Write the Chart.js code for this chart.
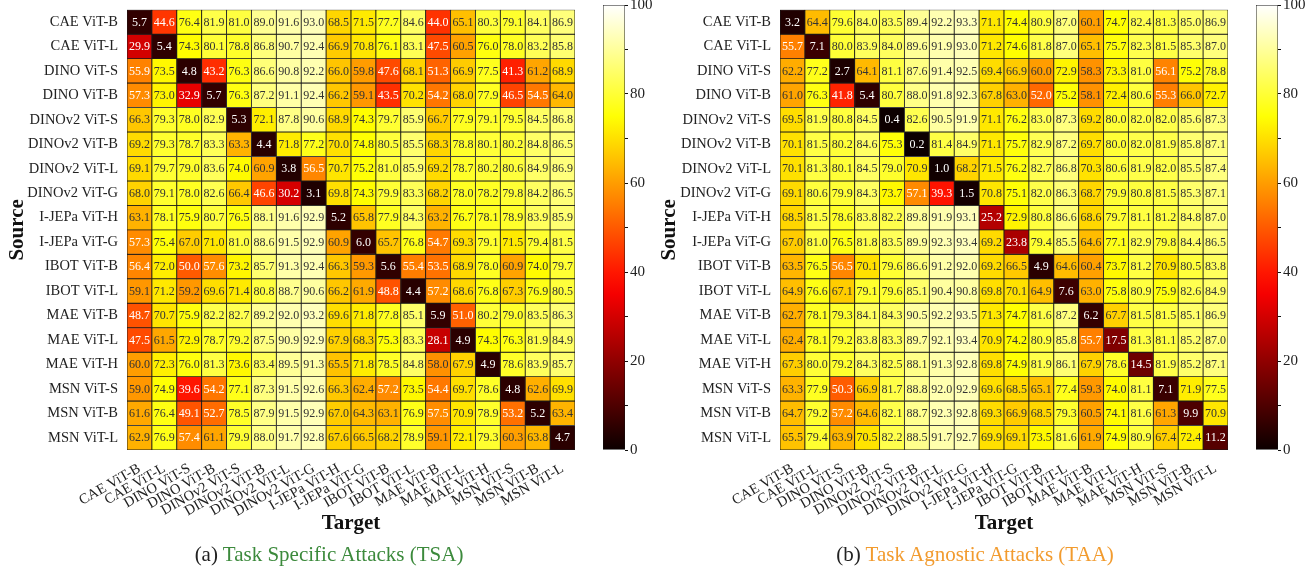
<!DOCTYPE html>
<html>
<head>
<meta charset="utf-8">
<script src="https://cdn.jsdelivr.net/npm/chart.js@4.4.1/dist/chart.umd.min.js"></script>
<style>
body{margin:0;background:#fff;width:1315px;height:573px;overflow:hidden;position:relative;font-family:'Liberation Serif',serif}
.box{position:absolute}
.cap{position:absolute;top:542px;font-size:21px;color:#222;white-space:nowrap;transform:translateX(-50%)}
</style>
</head>
<body>
<div class="box" style="left:0;top:0;width:590px;height:545px"><canvas id="heatTSA"></canvas></div>
<div class="box" style="left:598px;top:-8px;width:62px;height:473px"><canvas id="barTSA"></canvas></div>
<div class="box" style="left:653px;top:0;width:590px;height:545px"><canvas id="heatTAA"></canvas></div>
<div class="box" style="left:1251px;top:-8px;width:62px;height:473px"><canvas id="barTAA"></canvas></div>
<div class="cap" style="left:329px">(a) <span style="color:#3c8a3c">Task Specific Attacks (TSA)</span></div>
<div class="cap" style="left:975px">(b) <span style="color:#f29b2e">Task Agnostic Attacks (TAA)</span></div>
<script>
const models = ['CAE ViT-B','CAE ViT-L','DINO ViT-S','DINO ViT-B','DINOv2 ViT-S','DINOv2 ViT-B','DINOv2 ViT-L','DINOv2 ViT-G',
    'I-JEPa ViT-H','I-JEPa ViT-G','IBOT ViT-B','IBOT ViT-L','MAE ViT-B','MAE ViT-L','MAE ViT-H','MSN ViT-S','MSN ViT-B','MSN ViT-L']

// rows = source, columns = target
const tsa = [
    [5.7,44.6,76.4,81.9,81.0,89.0,91.6,93.0,68.5,71.5,77.7,84.6,44.0,65.1,80.3,79.1,84.1,86.9],
    [29.9,5.4,74.3,80.1,78.8,86.8,90.7,92.4,66.9,70.8,76.1,83.1,47.5,60.5,76.0,78.0,83.2,85.8],
    [55.9,73.5,4.8,43.2,76.3,86.6,90.8,92.2,66.0,59.8,47.6,68.1,51.3,66.9,77.5,41.3,61.2,68.9],
    [57.3,73.0,32.9,5.7,76.3,87.2,91.1,92.4,66.2,59.1,43.5,70.2,54.2,68.0,77.9,46.5,54.5,64.0],
    [66.3,79.3,78.0,82.9,5.3,72.1,87.8,90.6,68.9,74.3,79.7,85.9,66.7,77.9,79.1,79.5,84.5,86.8],
    [69.2,79.3,78.7,83.3,63.3,4.4,71.8,77.2,70.0,74.8,80.5,85.5,68.3,78.8,80.1,80.2,84.8,86.5],
    [69.1,79.7,79.0,83.6,74.0,60.9,3.8,56.5,70.7,75.2,81.0,85.9,69.2,78.7,80.2,80.6,84.9,86.9],
    [68.0,79.1,78.0,82.6,66.4,46.6,30.2,3.1,69.8,74.3,79.9,83.3,68.2,78.0,78.2,79.8,84.2,86.5],
    [63.1,78.1,75.9,80.7,76.5,88.1,91.6,92.9,5.2,65.8,77.9,84.3,63.2,76.7,78.1,78.9,83.9,85.9],
    [57.3,75.4,67.0,71.0,81.0,88.6,91.5,92.9,60.9,6.0,65.7,76.8,54.7,69.3,79.1,71.5,79.4,81.5],
    [56.4,72.0,50.0,57.6,73.2,85.7,91.3,92.4,66.3,59.3,5.6,55.4,53.5,68.9,78.0,60.9,74.0,79.7],
    [59.1,71.2,59.2,69.6,71.4,80.8,88.7,90.6,66.2,61.9,48.8,4.4,57.2,68.6,76.8,67.3,76.9,80.5],
    [48.7,70.7,75.9,82.2,82.7,89.2,92.0,93.2,69.6,71.8,77.8,85.1,5.9,51.0,80.2,79.0,83.5,86.3],
    [47.5,61.5,72.9,78.7,79.2,87.5,90.9,92.9,67.9,68.3,75.3,83.3,28.1,4.9,74.3,76.3,81.9,84.9],
    [60.0,72.3,76.0,81.3,73.6,83.4,89.5,91.3,65.5,71.8,78.5,84.8,58.0,67.9,4.9,78.6,83.9,85.7],
    [59.0,74.9,39.6,54.2,77.1,87.3,91.5,92.6,66.3,62.4,57.2,73.5,54.4,69.7,78.6,4.8,62.6,69.9],
    [61.6,76.4,49.1,52.7,78.5,87.9,91.5,92.9,67.0,64.3,63.1,76.9,57.5,70.9,78.9,53.2,5.2,63.4],
    [62.9,76.9,57.4,61.1,79.9,88.0,91.7,92.8,67.6,66.5,68.2,78.9,59.1,72.1,79.3,60.3,63.8,4.7]
]

const taa = [
    [3.2,64.4,79.6,84.0,83.5,89.4,92.2,93.3,71.1,74.4,80.9,87.0,60.1,74.7,82.4,81.3,85.0,86.9],
    [55.7,7.1,80.0,83.9,84.0,89.6,91.9,93.0,71.2,74.6,81.8,87.0,65.1,75.7,82.3,81.5,85.3,87.0],
    [62.2,77.2,2.7,64.1,81.1,87.6,91.4,92.5,69.4,66.9,60.0,72.9,58.3,73.3,81.0,56.1,75.2,78.8],
    [61.0,76.3,41.8,5.4,80.7,88.0,91.8,92.3,67.8,63.0,52.0,75.2,58.1,72.4,80.6,55.3,66.0,72.7],
    [69.5,81.9,80.8,84.5,0.4,82.6,90.5,91.9,71.1,76.2,83.0,87.3,69.2,80.0,82.0,82.0,85.6,87.3],
    [70.1,81.5,80.2,84.6,75.3,0.2,81.4,84.9,71.1,75.7,82.9,87.2,69.7,80.0,82.0,81.9,85.8,87.1],
    [70.1,81.3,80.1,84.5,79.0,70.9,1.0,68.2,71.5,76.2,82.7,86.8,70.3,80.6,81.9,82.0,85.5,87.4],
    [69.1,80.6,79.9,84.3,73.7,57.1,39.3,1.5,70.8,75.1,82.0,86.3,68.7,79.9,80.8,81.5,85.3,87.1],
    [68.5,81.5,78.6,83.8,82.2,89.8,91.9,93.1,25.2,72.9,80.8,86.6,68.6,79.7,81.1,81.2,84.8,87.0],
    [67.0,81.0,76.5,81.8,83.5,89.9,92.3,93.4,69.2,23.8,79.4,85.5,64.6,77.1,82.9,79.8,84.4,86.5],
    [63.5,76.5,56.5,70.1,79.6,86.6,91.2,92.0,69.2,66.5,4.9,64.6,60.4,73.7,81.2,70.9,80.5,83.8],
    [64.9,76.6,67.1,79.1,79.6,85.1,90.4,90.8,69.8,70.1,64.9,7.6,63.0,75.8,80.9,75.9,82.6,84.9],
    [62.7,78.1,79.3,84.1,84.3,90.5,92.2,93.5,71.3,74.7,81.6,87.2,6.2,67.7,81.5,81.5,85.1,86.9],
    [62.4,78.1,79.2,83.8,83.3,89.7,92.1,93.4,70.9,74.2,80.9,85.8,55.7,17.5,81.3,81.1,85.2,87.0],
    [67.3,80.0,79.2,84.3,82.5,88.1,91.3,92.8,69.8,74.9,81.9,86.1,67.9,78.6,14.5,81.9,85.2,87.1],
    [63.3,77.9,50.3,66.9,81.7,88.8,92.0,92.9,69.6,68.5,65.1,77.4,59.3,74.0,81.1,7.1,71.9,77.5],
    [64.7,79.2,57.2,64.6,82.1,88.7,92.3,92.8,69.3,66.9,68.5,79.3,60.5,74.1,81.6,61.3,9.9,70.9],
    [65.5,79.4,63.9,70.5,82.2,88.5,91.7,92.7,69.9,69.1,73.5,81.6,61.9,74.9,80.9,67.4,72.4,11.2]
]

const cbarTicks = [0,20,40,60,80,100]

const serif = "'Liberation Serif', serif"

// matplotlib 'hot' colormap
function hot(v){
    let t = v/100
    let r = Math.min(1, 0.0416 + t/0.365079*(1-0.0416))
    let g = Math.max(0, Math.min(1, (t-0.365079)/(0.746032-0.365079)))
    let b = Math.max(0, Math.min(1, (t-0.746032)/(1-0.746032)))
    return [r,g,b]
}
function rgb(c){
    return `rgb(${Math.round(c[0]*255)},${Math.round(c[1]*255)},${Math.round(c[2]*255)})`
}
function lum(c){
    let l = c.map(x => x <= 0.03928 ? x/12.92 : Math.pow((x+0.055)/1.055, 2.4))
    return 0.2126*l[0] + 0.7152*l[1] + 0.0722*l[2]
}

function cellText(values){
    return {
        id:'cellText',
        afterDatasetsDraw(chart){
            let ctx = chart.ctx
            ctx.save()
            ctx.font = "12px " + serif
            ctx.textAlign = 'center'
            ctx.textBaseline = 'middle'
            chart.data.datasets.forEach((ds, r) => {
                chart.getDatasetMeta(r).data.forEach((bar, c) => {
                    let v = values[r][c]
                    let p = bar.getCenterPoint()
                    ctx.fillStyle = lum(hot(v)) < 0.408 ? '#ffffff' : '#333333'
                    ctx.fillText(v.toFixed(1), p.x, p.y + 0.5)
                })
            })
            ctx.restore()
        }
    }
}

function makeHeat(id, values, titlePad){
    return new Chart(document.getElementById(id),{
        type:'bar',
        data:{
            labels:models,
            datasets:values.map((row, r) => ({
                label:models[r],
                data:row.map(() => [r, r+1]),
                backgroundColor:row.map(v => rgb(hot(v))),
                borderColor:'#1a1a1a',
                borderWidth:0.8,
                borderSkipped:false,
                grouped:false,
                barPercentage:1,
                categoryPercentage:1,
            }))
        },
        options:{
            responsive:true,
            maintainAspectRatio:false,
            animation:false,
            layout:{padding:{top:5, right:15, left:0, bottom:0}},
            plugins:{legend:{display:false}, tooltip:{enabled:false}},
            scales:{
                x:{
                    grid:{display:false},
                    border:{display:false},
                    ticks:{autoSkip:false, minRotation:30, maxRotation:30, padding:2, color:'#222', font:{family:serif, size:14.5}},
                    title:{display:true, text:'Target', color:'#111', font:{family:serif, size:21, weight:'bold'}, padding:{top:0, bottom:9}},
                    afterFit(s){ s.height = 95 },
                },
                y:{
                    type:'linear',
                    min:0,
                    max:18,
                    reverse:true,
                    grid:{display:false},
                    border:{display:false},
                    afterBuildTicks(s){ s.ticks = models.map((m, i) => ({value:i+0.5})) },
                    ticks:{callback:(v) => models[Math.floor(v)], padding:1, color:'#222', font:{family:serif, size:14.5}},
                    title:{display:true, text:'Source', color:'#111', font:{family:serif, size:21, weight:'bold'}, padding:{top:titlePad, bottom:0}},
                    afterFit(s){ s.width = 127 },
                },
            },
        },
        plugins:[cellText(values)]
    })
}

function makeBar(id){
    return new Chart(document.getElementById(id),{
        type:'bar',
        data:{
            labels:[''],
            datasets:[{
                data:[[0,100]],
                backgroundColor(context){
                    let ca = context.chart.chartArea
                    if(!ca) return '#000'
                    let g = context.chart.ctx.createLinearGradient(0, ca.bottom, 0, ca.top)
                    for(let i = 0; i <= 20; i++){
                        g.addColorStop(i/20, rgb(hot(i*5)))
                    }
                    return g
                },
                borderColor:'#111',
                borderWidth:0.8,
                borderSkipped:false,
                barPercentage:1,
                categoryPercentage:1,
            }]
        },
        options:{
            responsive:true,
            maintainAspectRatio:false,
            animation:false,
            layout:{padding:{top:13, bottom:15, left:5, right:0}},
            plugins:{legend:{display:false}, tooltip:{enabled:false}},
            scales:{
                x:{display:false},
                y:{
                    position:'right',
                    min:0,
                    max:100,
                    border:{display:false},
                    grid:{drawOnChartArea:false, drawTicks:true, tickLength:3, color:'#111'},
                    ticks:{stepSize:10, padding:2, color:'#222', font:{family:serif, size:15},
                        callback:(v) => cbarTicks.includes(v) ? v : ''},
                    afterFit(s){ s.width = 35 },
                },
            },
        },
    })
}

makeHeat('heatTSA', tsa, 5)
makeBar('barTSA')
makeHeat('heatTAA', taa, 4)
makeBar('barTAA')
</script>
</body>
</html>
